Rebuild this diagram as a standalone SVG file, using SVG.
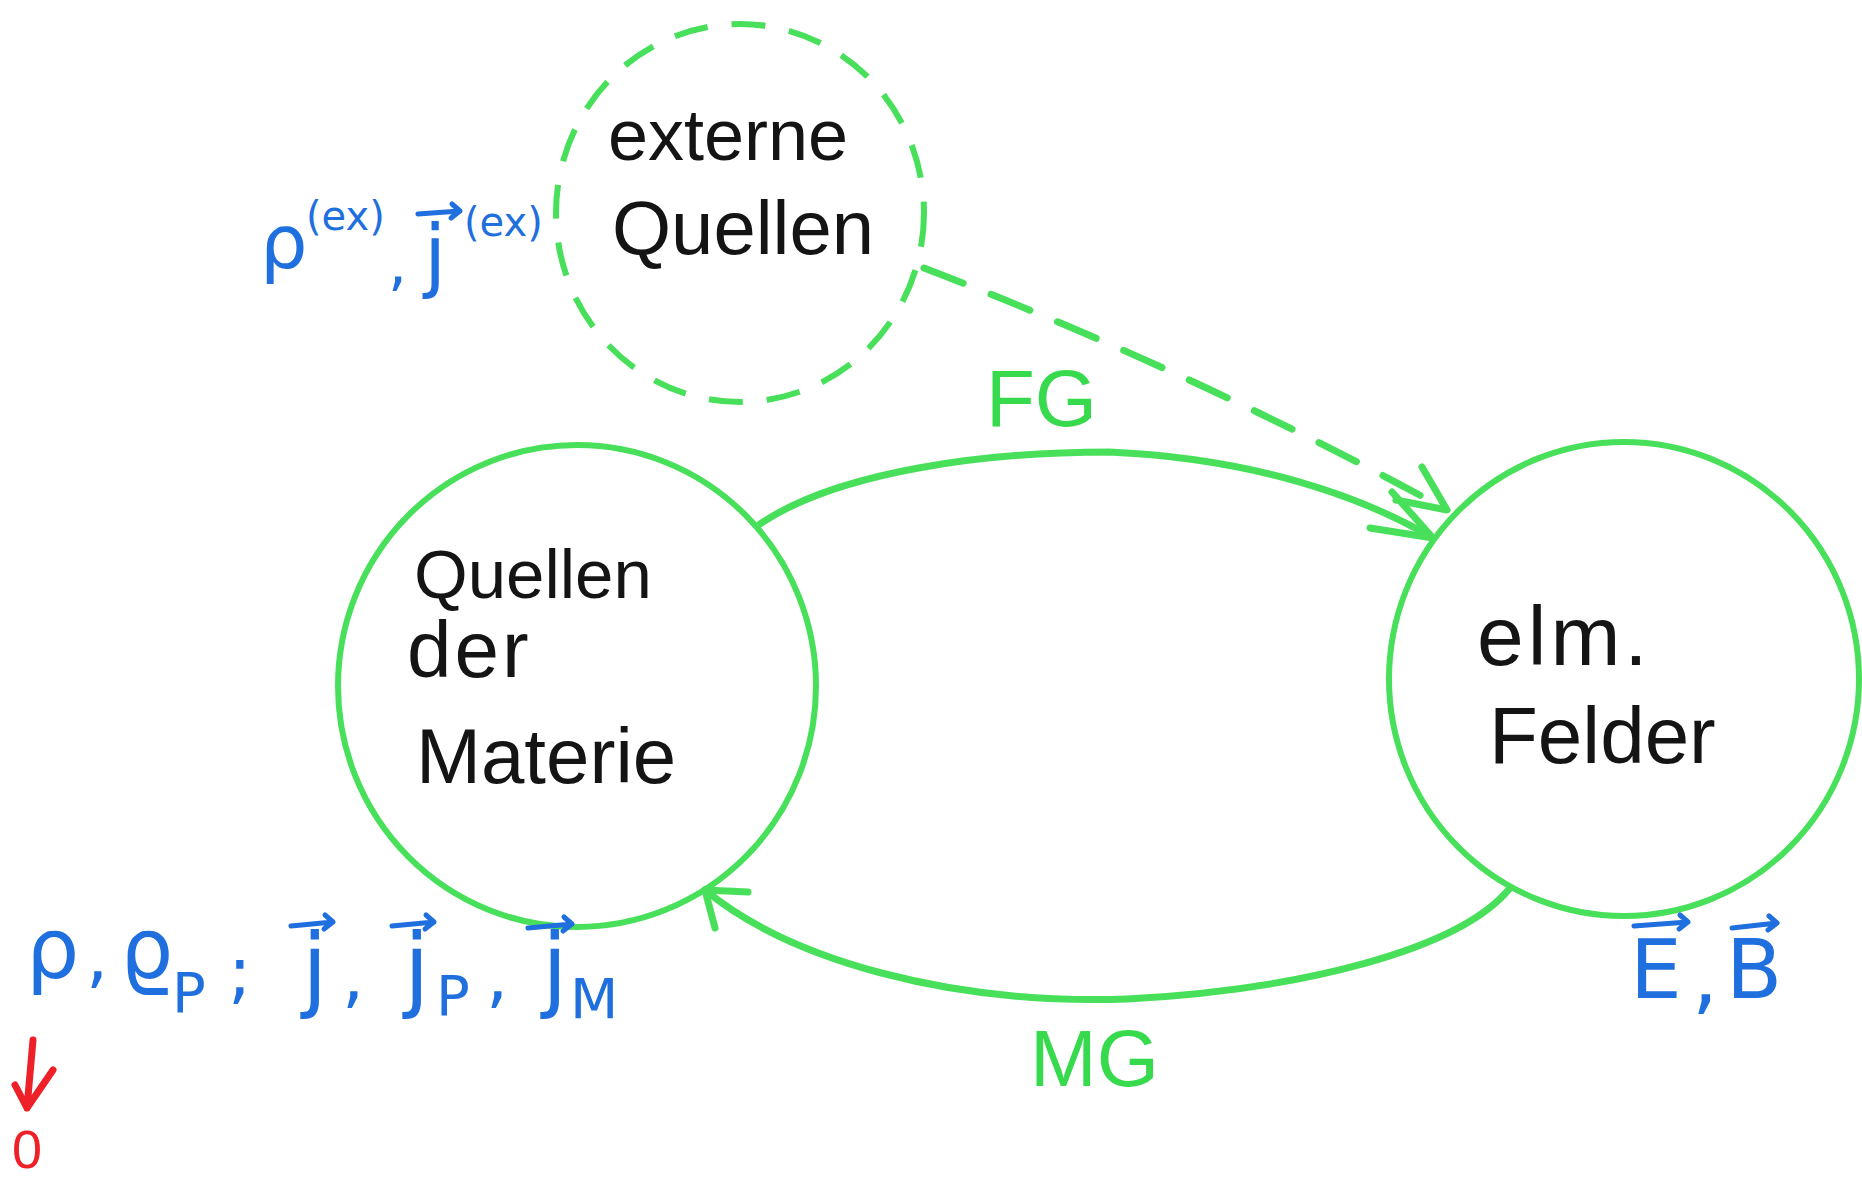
<svg xmlns="http://www.w3.org/2000/svg" width="1862" height="1177" viewBox="0 0 1862 1177">
<style>
.node{fill:none;stroke:#48e05a;stroke-width:6}
.dashed{stroke-dasharray:34 24}
.conn{fill:none;stroke:#48e05a;stroke-width:7;stroke-linecap:round;stroke-linejoin:round}
.dconn{stroke-dasharray:42 30}
.lbl{font-family:"Liberation Sans",Arial,sans-serif;fill:#141414}
.glbl{font-family:"Liberation Sans",Arial,sans-serif;fill:#36da4c}
.blue{font-family:"DejaVu Sans","Liberation Sans",sans-serif;fill:#1f6fde}
.vec{fill:none;stroke:#1f6fde;stroke-width:5;stroke-linecap:round;stroke-linejoin:round}
.red{fill:none;stroke:#ee2028;stroke-width:7;stroke-linecap:round;stroke-linejoin:round}
</style>
<rect width="1862" height="1177" fill="#ffffff"/>

<g id="connectors">
  <path id="fg" class="conn" d="M 760 524 C 840 470, 990 452, 1109 452 C 1250 458, 1360 495, 1433 538"/>
  <path class="conn" d="M 1370 528 L 1433 538 L 1392 492"/>
  <path id="mg" class="conn" d="M 1510 888 C 1460 950, 1300 990, 1127 999 C 950 1005, 790 960, 705 890"/>
  <path class="conn" d="M 748 892 L 705 890 L 715 928"/>
  <path id="ext" class="conn dconn" d="M 924 268 Q 1190 370, 1440 506"/>
  <path class="conn" d="M 1422 467 L 1447 510 L 1396 500"/>
  <text class="glbl" x="986" y="426" font-size="80">FG</text>
  <text class="glbl" x="1030" y="1086" font-size="80">MG</text>
</g>

<g id="node-extern">
  <ellipse class="node dashed" cx="740" cy="213" rx="184" ry="189"/>
  <text class="lbl" x="608" y="160" font-size="72">externe</text>
  <text class="lbl" x="612" y="254" font-size="76">Quellen</text>
</g>

<g id="node-materie">
  <ellipse class="node" cx="577" cy="686" rx="239" ry="241"/>
  <text class="lbl" x="414" y="598" font-size="69">Quellen</text>
  <text class="lbl" x="407" y="677" font-size="80" letter-spacing="3">der</text>
  <text class="lbl" x="416" y="783" font-size="78">Materie</text>
</g>

<g id="node-felder">
  <ellipse class="node" cx="1624" cy="679" rx="235" ry="237"/>
  <text class="lbl" x="1477" y="665" font-size="84" letter-spacing="4">elm.</text>
  <text class="lbl" x="1489" y="763" font-size="80">Felder</text>
</g>

<g id="label-extern-sources">
  <text class="blue" font-size="75" x="260" y="268">ρ</text>
  <text class="blue" font-size="40" x="306" y="230">(ex)</text>
  <text class="blue" font-size="60" x="388" y="284">,</text>
  <text class="blue" font-size="80" x="424" y="282">j</text>
  <path class="vec" d="M 418 214 L 460 211 M 452 204 L 460 211 L 451 218"/>
  <text class="blue" font-size="40" x="464" y="236">(ex)</text>
</g>

<g id="label-matter-sources">
  <text class="blue" font-size="84" x="26" y="978">ρ</text>
  <text class="blue" font-size="70" x="86" y="980">,</text>
  <text class="blue" font-size="84" x="120" y="978">ϱ</text>
  <text class="blue" font-size="56" x="172" y="1012">P</text>
  <text class="blue" font-size="70" x="228" y="996">;</text>
  <text class="blue" font-size="92" x="302" y="1000">j</text>
  <path class="vec" d="M 291 926 L 333 922 M 325 915 L 333 922 L 324 929"/>
  <text class="blue" font-size="70" x="342" y="1000">,</text>
  <text class="blue" font-size="92" x="404" y="1000">j</text>
  <path class="vec" d="M 392 926 L 434 922 M 426 915 L 434 922 L 425 929"/>
  <text class="blue" font-size="56" x="436" y="1015">P</text>
  <text class="blue" font-size="70" x="486" y="1000">,</text>
  <text class="blue" font-size="92" x="542" y="1000">j</text>
  <path class="vec" d="M 528 928 L 572 924 M 564 917 L 572 924 L 563 931"/>
  <text class="blue" font-size="56" x="570" y="1018">M</text>
</g>

<g id="label-fields">
  <text class="blue" font-family="Liberation Sans" font-size="82" x="1630" y="998">E</text>
  <path class="vec" d="M 1634 926 L 1688 922 M 1680 915 L 1688 922 L 1679 929"/>
  <text class="blue" font-family="Liberation Sans" font-size="82" x="1692" y="1004">,</text>
  <text class="blue" font-family="Liberation Sans" font-size="82" x="1726" y="998">B</text>
  <path class="vec" d="M 1732 928 L 1777 923 M 1769 916 L 1777 923 L 1768 930"/>
</g>

<g id="label-zero">
  <path class="red" d="M 33 1040 L 27 1108 M 15 1085 L 27 1108 L 53 1070"/>
  <text x="12" y="1168" font-family="Liberation Sans" font-size="54" fill="#ee2028">0</text>
</g>
</svg>
